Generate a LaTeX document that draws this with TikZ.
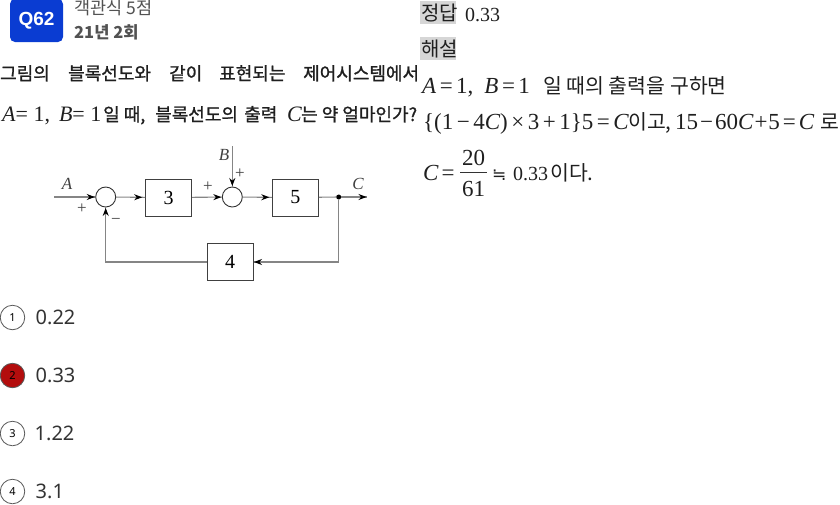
\documentclass[tikz,border=0pt]{standalone}
\usepackage{fontspec}
\newfontfamily\kor{Noto Sans CJK KR}
\newfontfamily\korm[FakeBold=1.2]{Noto Sans CJK KR}
\newfontfamily\opt{Noto Sans}
\newfontfamily\badge{Liberation Sans}
\newfontfamily\ser{Liberation Serif}
\newfontfamily\symb{DejaVu Sans}
\usetikzlibrary{calc,arrows.meta,decorations.markings}
\definecolor{badgeblue}{HTML}{0A3CD2}
\definecolor{redfill}{HTML}{B30D0D}
\definecolor{hilite}{HTML}{D6D6D6}
\definecolor{wire}{HTML}{858585}
\newcommand\va[1]{{\itshape #1}}
\newcommand\opr[1]{\kern3.5pt#1\kern3.5pt}
\tikzset{
    txt/.style={anchor=base west,inner sep=0pt,text=black!88},
    head/.style={txt,font=\korm\fontsize{18}{20}\selectfont},
    headnum/.style={txt,font=\ser\fontsize{22}{24}\selectfont},
    meta/.style={txt,text=black!68,font=\kor\fontsize{17.5}{20}\selectfont},
    expl/.style={txt,font=\kor\fontsize{20.5}{22}\selectfont},
    num/.style={txt,font=\ser\fontsize{23}{25}\selectfont},
    block/.style={draw=black!75,line width=1pt,minimum width=46pt,minimum height=37pt,inner sep=0pt,font=\ser\fontsize{20}{22}\selectfont},
    sum/.style={circle,draw=black!80,line width=0.9pt,minimum size=20pt,inner sep=0pt},
    sign/.style={inner sep=0pt,text=black!75,font=\ser\fontsize{17}{18}\selectfont},
    flow/.style={draw=wire,line width=1.1pt,decoration={markings,mark=at position #1 with {\arrow[black]{Stealth[length=8pt,width=6pt]}}},postaction={decorate}},
    flow/.default=-0.5pt,
    optcircle/.style={circle,draw=black!65,line width=0.8pt,minimum size=24.5pt,inner sep=0pt,font=\opt\fontsize{11}{12}\selectfont},
    opttext/.style={txt,text=black!80,font=\opt\fontsize{20}{24}\selectfont}
}

\begin{document}
\begin{tikzpicture}[x=1pt,y=-1pt]
    \useasboundingbox (0,0) rectangle (840,504);
    % header
    \fill[badgeblue,rounded corners=5pt] (10,-1) rectangle (63,42);
    \node[font=\badge\bfseries\fontsize{19}{20}\selectfont,text=white,inner sep=0pt] at (36.5,20.5) (qnum) {Q62};
    \node[meta] at (74,14) (kind) {객관식 5점};
    \node[meta,font=\kor\bfseries\fontsize{16.5}{18}\selectfont] at (74,38) (year) {21년 2회};

    % question
    \node[head] at (0,80) (q1) {그림의};
    \node[head] at (68,80) (q2) {블록선도와};
    \node[head] at (169,80) (q3) {같이};
    \node[head] at (219,80) (q4) {표현되는};
    \node[head] at (303,80) (q5) {제어시스템에서};
    \node[headnum] at (2,121) (q6a) {\va{A}= 1,\kern9pt\va{B}= 1};
    \node[head] at (103,121) (q6b) {일 때,};
    \node[head] at (155,121) (q6c) {블록선도의};
    \node[head] at (244,121) (q6d) {출력};
    \node[headnum] at (287,121) (q6e) {\va{C}};
    \node[head] at (301,121) (q6f) {는 약 얼마인가?};

    % block diagram
    \coordinate (input) at (54,197);
    \coordinate (output) at (367,197);
    \coordinate (btop) at (232.3,146);
    \node[sum] at (105.7,197) (sum1) {};
    \node[sum] at (232.3,197) (sum2) {};
    \node[block] at (168.7,197.5) (three) {3};
    \node[block] at (295.3,197.5) (five) {5};
    \node[block] at (230,262) (four) {4};
    \node[circle,fill=black,minimum size=5pt,inner sep=0pt] at (338.7,197) (branch) {};
    \draw[flow] (input) -- (sum1);
    \draw[flow=-3pt] (sum1) -- (three);
    \draw[flow] (three) -- (sum2);
    \draw[flow] (btop) -- (sum2);
    \draw[flow=-2.5pt] (sum2) -- (five);
    \draw[draw=wire,line width=1.1pt] (five) -- (branch);
    \draw[flow] (branch) -- (output);
    \draw[flow] (branch) |- (four);
    \draw[flow] (four) -| (sum1);
    \node[sign] at (67,184) (labela) {\va{A}};
    \node[sign] at (224,155) (labelb) {\va{B}};
    \node[sign] at (358,184) (labelc) {\va{C}};
    \node[sign] at (82,209) (plusa) {+};
    \node[sign] at (116,221) (minus) {−};
    \node[sign] at (208,187) (plusc) {+};
    \node[sign] at (240,174) (plusb) {+};

    % options
    \node[optcircle] at (12.5,317.5) (opta) {1};
    \node[optcircle,fill=redfill] at (12.5,375.5) (optb) {2};
    \node[optcircle] at (12.5,433.5) (optc) {3};
    \node[optcircle] at (12.5,491.5) (optd) {4};
    \node[opttext] at (35.5,324.5) (vala) {0.22};
    \node[opttext] at (35.5,382.5) (valb) {0.33};
    \node[opttext] at (34.5,440.5) (valc) {1.22};
    \node[opttext] at (35.5,498.5) (vald) {3.1};

    % answer
    \fill[hilite] (420,1) rectangle (456,24);
    \fill[hilite] (420,37) rectangle (456,60);
    \node[expl,font=\kor\fontsize{20}{22}\selectfont] at (421,20) (ans) {정답};
    \node[num,font=\ser\fontsize{20}{22}\selectfont] at (465,21) (ansval) {0.33};
    \node[expl,font=\kor\fontsize{20}{22}\selectfont] at (421,56) (expl) {해설};
    \node[num] at (422,93) (line1a) {\va{A}\opr{=}1,\kern11pt\va{B}\opr{=}1};
    \node[expl] at (543,93) (line1b) {일 때의 출력을 구하면};
    \node[num] at (423,129) (line2a) {\{(1\opr{−}4\va{C})\opr{×}3\opr{+}1\}5\opr{=}\va{C}};
    \node[expl] at (628,129) (line2b) {이고,};
    \node[num] at (675,129) (line2c) {15\kern2pt−\kern2pt60\va{C}\kern1pt+\kern1pt5\kern3pt=\kern3pt\va{C}};
    \node[expl] at (820,129) (line2d) {로};
    \node[num] at (423,180) (line3a) {\va{C}\kern3pt=};
    \node[num,anchor=base] at (473.5,165) (numer) {20};
    \node[num,anchor=base] at (473.5,196) (denom) {61};
    \draw[line width=0.9pt,black!80] (460,172.7) -- (487,172.7);
    \node[txt,font=\symb\fontsize{17}{20}\selectfont] at (492,180) (approx) {≒};
    \node[num,font=\ser\fontsize{20}{22}\selectfont] at (513,180) (line3c) {0.33};
    \node[expl] at (550,180) (line3d) {이다.};
\end{tikzpicture}
\end{document}
